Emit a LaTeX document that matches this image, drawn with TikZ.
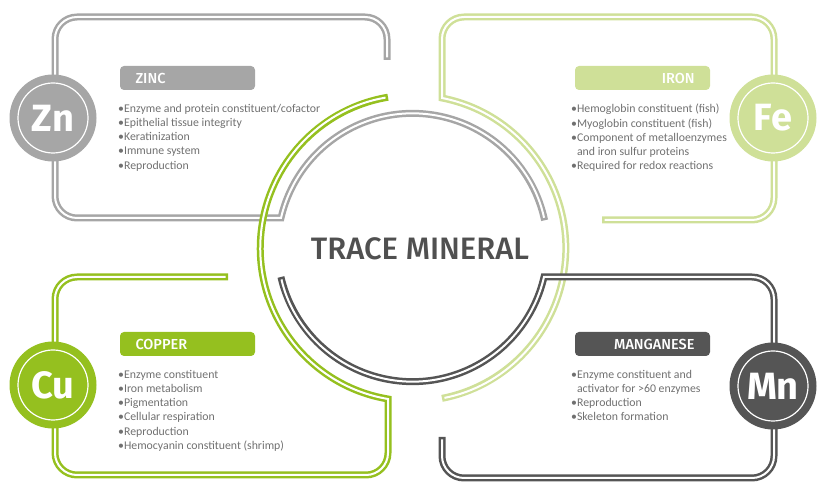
\documentclass[tikz,border=0pt]{standalone}
\usepackage{fontspec}
\setmainfont{Carlito}
\newfontfamily\headfont{Fira Sans}
\newfontfamily\tagfont{Fira Sans Medium}
\definecolor{zinc}{RGB}{166,166,166}
\definecolor{iron}{RGB}{207,224,152}
\definecolor{copper}{RGB}{149,192,31}
\definecolor{mangan}{RGB}{85,85,85}
\definecolor{factgray}{RGB}{112,112,112}
\definecolor{titlegray}{RGB}{80,80,80}
\tikzset{
  band/.style={draw=#1,line width=7pt,postaction={draw=white,line width=2pt,shorten <=2.5pt,shorten >=2.5pt}},
  badge/.style={circle,fill=#1,minimum size=87pt,inner sep=0pt,text=white,font=\headfont\bfseries\fontsize{38}{38}\selectfont},
  tag/.style={fill=#1,rounded corners=4pt,text width=104pt,inner xsep=15.5pt,minimum height=24pt,inner ysep=0pt,text=white,font=\tagfont\fontsize{14.5}{14.5}\selectfont},
  facts/.style={align=left,anchor=north west,inner sep=0pt,text=factgray,font=\fontsize{11.8}{14.2}\selectfont}
}
\begin{document}
\begin{tikzpicture}[x=1pt,y=1pt]
  \useasboundingbox (0,0) rectangle (828,495);
  % frames running into the central rings
  \draw[band=zinc] (387,435) [rounded corners=22pt] -- (387,478) -- (55,478) -- (55,277) [sharp corners] -- (281,277) arc[start angle=167,end angle=12,radius=135];
  \draw[band=iron] (602,275) [rounded corners=22pt] -- (774,275) -- (774,478) -- (442,478) [sharp corners] -- (442,397) arc[start angle=79,end angle=-79,radius=153];
  \draw[band=copper] (228,218) [rounded corners=22pt] -- (55,218) -- (55,20) -- (388,20) [sharp corners] -- (388,96) arc[start angle=260.5,end angle=99.5,radius=153];
  \draw[band=mangan] (442,58) [rounded corners=22pt] -- (442,17) -- (774,17) -- (774,218) [sharp corners] -- (544,218) arc[start angle=-13,end angle=-167,radius=135];
  \node[text=titlegray,font=\tagfont\fontsize{31}{31}\selectfont] (title) at (420,246) {TRACE MINERAL};
  % badges
  \node[badge=zinc] (zn) at (53,377) {Zn};
  \node[badge=iron] (fe) at (773,377) {Fe};
  \node[badge=copper] (cu) at (53,110) {Cu};
  \node[badge=mangan] (mn) at (773,109) {Mn};
  \draw[white,line width=1.2pt] (zn.center) circle (35pt);
  \draw[white,line width=1.2pt] (fe.center) circle (35pt);
  \draw[white,line width=1.2pt] (cu.center) circle (35pt);
  \draw[white,line width=1.2pt] (mn.center) circle (35pt);
  % name tags
  \node[tag=zinc,align=left] (zinctag) at (187.5,417) {ZINC};
  \node[tag=iron,align=right] (irontag) at (642.5,417) {IRON};
  \node[tag=copper,align=left] (coppertag) at (187.5,151) {COPPER};
  \node[tag=mangan,align=right] (mangantag) at (642.5,151) {MANGANESE};
  % facts
  \node[facts] (zincfacts) at (118,391) {\textbullet Enzyme and protein constituent/cofactor\\\textbullet Epithelial tissue integrity\\\textbullet Keratinization\\\textbullet Immune system\\\textbullet Reproduction};
  \node[facts] (ironfacts) at (571,391) {\textbullet Hemoglobin constituent (fish)\\\textbullet Myoglobin constituent (fish)\\\textbullet Component of metalloenzymes\\\hphantom{\textbullet}and iron sulfur proteins\\\textbullet Required for redox reactions};
  \node[facts] (copperfacts) at (118,125) {\textbullet Enzyme constituent\\\textbullet Iron metabolism\\\textbullet Pigmentation\\\textbullet Cellular respiration\\\textbullet Reproduction\\\textbullet Hemocyanin constituent (shrimp)};
  \node[facts] (manganfacts) at (571,125) {\textbullet Enzyme constituent and\\\hphantom{\textbullet}activator for >60 enzymes\\\textbullet Reproduction\\\textbullet Skeleton formation};
\end{tikzpicture}
\end{document}
